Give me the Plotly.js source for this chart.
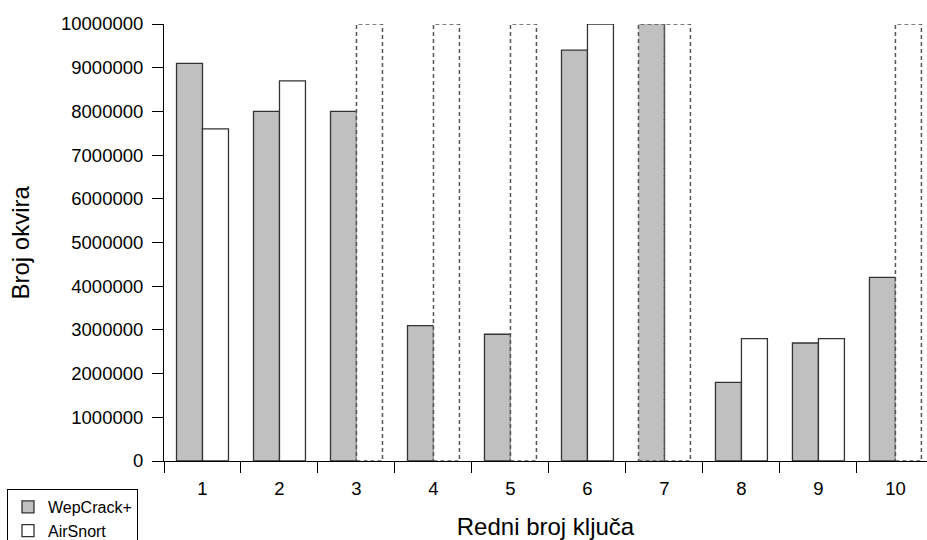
<!DOCTYPE html>
<html>
<head>
<meta charset="utf-8">
<script src="https://cdn.plot.ly/plotly-3.0.1.min.js"></script>
<style>html,body{margin:0;padding:0;background:#fff}#chart{width:927px;height:540px}</style>
</head>
<body>
<div id="chart"></div>
<script>
// Data
const categories = ["1","2","3","4","5","6","7","8","9","10"];
const wepcrackValues = [9100000, 8000000, 8000000, 3100000, 2900000, 9400000, 10000000, 1800000, 2700000, 4200000];
const airsnortValues = [7600000, 8700000, 10000000, 10000000, 10000000, 10000000, 10000000, 2800000, 2800000, 10000000];
// whether the key was found (false => drawn as dashed bar at the limit)
const wepcrackFound = [true, true, true, true, true, true, false, true, true, true];
const airsnortFound = [true, true, false, false, false, true, false, true, true, false];
const seriesNames = ["WepCrack+", "AirSnort"];
const xTitle = "Redni broj ključa";
const yTitle = "Broj okvira";

const FONT = "Arial, 'Liberation Sans', sans-serif";
const bargap = 0.325;
const barW = (1 - bargap) / 2;

function lineWidths(found) { return found.map(f => f ? 1.3 : 0); }

const traces = [
  {
    type: "bar", name: seriesNames[0], x: categories, y: wepcrackValues,
    marker: { color: "#c0c0c0", line: { color: "#333333", width: lineWidths(wepcrackFound) } },
    hoverinfo: "x+y"
  },
  {
    type: "bar", name: seriesNames[1], x: categories, y: airsnortValues,
    marker: { color: "#ffffff", line: { color: "#333333", width: lineWidths(airsnortFound) } },
    hoverinfo: "x+y"
  }
];

// dashed outlines for not-found bars, positioned in axis data units
const shapes = [];
function addDashed(values, found, side) {
  values.forEach((v, i) => {
    if (found[i]) return;
    const x0 = side === 0 ? i - barW : i;
    const x1 = side === 0 ? i : i + barW;
    shapes.push({ type: "rect", xref: "x", yref: "y", x0: x0, x1: x1, y0: 0, y1: v,
      line: { color: "#555555", width: 1.5, dash: "4px,3px" }, fillcolor: "rgba(0,0,0,0)", layer: "above" });
  });
}
addDashed(wepcrackValues, wepcrackFound, 0);
addDashed(airsnortValues, airsnortFound, 1);

const layout = {
  width: 927, height: 540,
  margin: { l: 164, r: 0, t: 24, b: 79, pad: 0 },
  paper_bgcolor: "#ffffff", plot_bgcolor: "#ffffff",
  font: { family: FONT, color: "#000000", size: 18 },
  barmode: "group", bargap: bargap, bargroupgap: 0,
  showlegend: true,
  legend: {
    xref: "container", yref: "container", x: 7/927, y: 1 - 489/540,
    xanchor: "left", yanchor: "top",
    bgcolor: "#ffffff", bordercolor: "#000000", borderwidth: 1,
    font: { family: FONT, size: 16, color: "#000000" },
    tracegroupgap: 0, itemwidth: 30
  },
  xaxis: {
    type: "category", range: [-0.5, 9.41],
    showline: true, linecolor: "#000000", linewidth: 1,
    ticks: "outside", ticklen: 11, tickcolor: "#000000", tickwidth: 1,
    ticklabelstandoff: 11,
    tickson: "boundaries", showgrid: false, zeroline: false,
    tickfont: { family: FONT, size: 18.5, color: "#000000" },
    title: { text: xTitle, font: { family: FONT, size: 24, color: "#000000" } },
    automargin: false,
    fixedrange: true
  },
  yaxis: {
    range: [0, 10000000], dtick: 1000000, tick0: 0,
    tickformat: "d", exponentformat: "none",
    showline: true, linecolor: "#000000", linewidth: 1,
    ticks: "outside", ticklen: 11, tickcolor: "#000000", tickwidth: 1,
    ticklabelstandoff: 5,
    showgrid: false, zeroline: false,
    tickfont: { family: FONT, size: 18.5, color: "#000000" },
    automargin: false,
    fixedrange: true
  },
  annotations: [
    { text: yTitle, xref: "paper", yref: "paper", x: (20 - 164) / 763, y: 0.5,
      xanchor: "center", yanchor: "middle", textangle: -90, showarrow: false,
      font: { family: FONT, size: 24, color: "#000000" } }
  ],
  shapes: shapes
};

Plotly.newPlot("chart", traces, layout, { displayModeBar: false, staticPlot: true });
</script>
</body>
</html>
